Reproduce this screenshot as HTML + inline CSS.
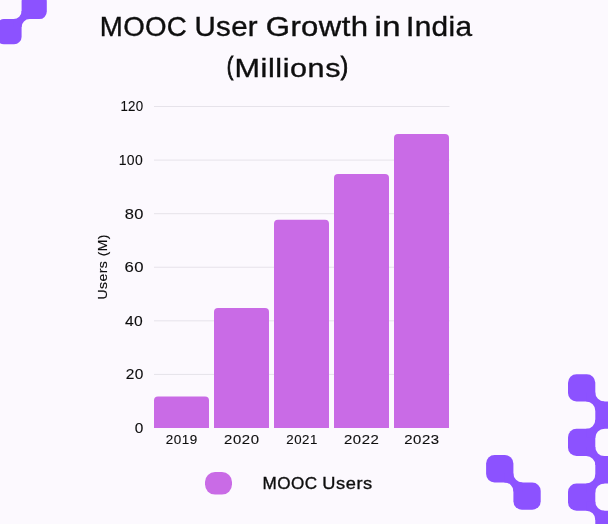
<!DOCTYPE html>
<html><head><meta charset="utf-8"><style>
html,body{margin:0;padding:0;width:608px;height:524px;overflow:hidden;background:#fcf9fe;}
svg{position:absolute;left:0;top:0;display:block;will-change:transform}
text{font-family:"Liberation Sans",sans-serif;fill:#0e0e0e}
</style></head><body>
<svg width="608" height="524" viewBox="0 0 608 524">
<rect width="608" height="524" fill="#fcf9fe"/>
<g fill="#8c52ff"><rect x="21.60" y="-6.10" width="25.20" height="25.20" rx="7.5"/><rect x="-3.60" y="19.10" width="25.20" height="25.20" rx="7.5"/><path d="M21.60,11.10 L29.60,11.10 L29.60,19.10 A8,8 0 0 0 21.60,27.10 L13.60,27.10 L13.60,19.10 A8,8 0 0 0 21.60,11.10 Z"/><rect x="486.10" y="455.10" width="27.30" height="27.30" rx="8.5"/><rect x="513.40" y="482.40" width="27.30" height="27.30" rx="8.5"/><path d="M504.40,473.40 L513.40,473.40 A9,9 0 0 0 522.40,482.40 L522.40,491.40 L513.40,491.40 A9,9 0 0 0 504.40,482.40 Z"/><rect x="568.00" y="374.20" width="27.30" height="27.30" rx="8.5"/><rect x="595.30" y="401.50" width="27.30" height="27.30" rx="8.5"/><rect x="568.00" y="428.80" width="27.30" height="27.30" rx="8.5"/><rect x="595.30" y="456.10" width="27.30" height="27.30" rx="8.5"/><rect x="568.00" y="483.40" width="27.30" height="27.30" rx="8.5"/><rect x="595.30" y="510.70" width="27.30" height="27.30" rx="8.5"/><path d="M586.30,392.50 L595.30,392.50 A9,9 0 0 0 604.30,401.50 L604.30,410.50 L595.30,410.50 A9,9 0 0 0 586.30,401.50 Z"/><path d="M595.30,419.80 L604.30,419.80 L604.30,428.80 A9,9 0 0 0 595.30,437.80 L586.30,437.80 L586.30,428.80 A9,9 0 0 0 595.30,419.80 Z"/><path d="M586.30,447.10 L595.30,447.10 A9,9 0 0 0 604.30,456.10 L604.30,465.10 L595.30,465.10 A9,9 0 0 0 586.30,456.10 Z"/><path d="M595.30,474.40 L604.30,474.40 L604.30,483.40 A9,9 0 0 0 595.30,492.40 L586.30,492.40 L586.30,483.40 A9,9 0 0 0 595.30,474.40 Z"/><path d="M586.30,501.70 L595.30,501.70 A9,9 0 0 0 604.30,510.70 L604.30,519.70 L595.30,519.70 A9,9 0 0 0 586.30,510.70 Z"/></g>
<rect x="154" y="373.92" width="295.5" height="1" fill="#e6e3ea"/><rect x="154" y="320.34" width="295.5" height="1" fill="#e6e3ea"/><rect x="154" y="266.76" width="295.5" height="1" fill="#e6e3ea"/><rect x="154" y="213.18" width="295.5" height="1" fill="#e6e3ea"/><rect x="154" y="159.60" width="295.5" height="1" fill="#e6e3ea"/><rect x="154" y="106.02" width="295.5" height="1" fill="#e6e3ea"/>
<path d="M154,428.0 L154,400.45 A4,4 0 0 1 158,396.45 L205,396.45 A4,4 0 0 1 209,400.45 L209,428.0 Z" fill="#c96be6"/><path d="M214,428.0 L214,312.05 A4,4 0 0 1 218,308.05 L265,308.05 A4,4 0 0 1 269,312.05 L269,428.0 Z" fill="#c96be6"/><path d="M274,428.0 L274,223.64 A4,4 0 0 1 278,219.64 L325,219.64 A4,4 0 0 1 329,223.64 L329,428.0 Z" fill="#c96be6"/><path d="M334,428.0 L334,178.09 A4,4 0 0 1 338,174.09 L385,174.09 A4,4 0 0 1 389,178.09 L389,428.0 Z" fill="#c96be6"/><path d="M394,428.0 L394,137.91 A4,4 0 0 1 398,133.91 L445,133.91 A4,4 0 0 1 449,137.91 L449,428.0 Z" fill="#c96be6"/>
<text transform="translate(143.50,36.05) scale(1.0645,1.0812)" text-anchor="middle" font-size="26" letter-spacing="0.3" stroke="#0e0e0e" stroke-width="0.35">MOOC</text><text transform="translate(226.25,36.05) scale(1.1331,1.0812)" text-anchor="middle" font-size="26" letter-spacing="0.3" stroke="#0e0e0e" stroke-width="0.35">User</text><text transform="translate(317.07,36.05) scale(1.1985,1.0812)" text-anchor="middle" font-size="26" letter-spacing="0.3" stroke="#0e0e0e" stroke-width="0.35">Growth</text><text transform="translate(387.75,36.05) scale(1.2664,1.0812)" text-anchor="middle" font-size="26" letter-spacing="0.3" stroke="#0e0e0e" stroke-width="0.35">in</text><text transform="translate(439.25,36.05) scale(1.1471,1.0812)" text-anchor="middle" font-size="26" letter-spacing="0.3" stroke="#0e0e0e" stroke-width="0.35">India</text><text transform="translate(230.00,74.80) scale(0.7581,0.9559)" text-anchor="middle" font-size="26" letter-spacing="0" stroke="#0e0e0e" stroke-width="0.9">(</text><text transform="translate(287.75,76.50) scale(1.1758,0.9712)" text-anchor="middle" font-size="26" letter-spacing="0.5" stroke="#0e0e0e" stroke-width="0.35">Millions</text><text transform="translate(344.55,74.80) scale(0.8525,0.9559)" text-anchor="middle" font-size="26" letter-spacing="0" stroke="#0e0e0e" stroke-width="0.9">)</text><text transform="translate(139.25,432.60) scale(1.1847,1.0767)" text-anchor="middle" font-size="13" letter-spacing="0.3" stroke="#0e0e0e" stroke-width="0.1">0</text><text transform="translate(134.75,379.21) scale(1.1923,1.0767)" text-anchor="middle" font-size="13" letter-spacing="0.3" stroke="#0e0e0e" stroke-width="0.1">20</text><text transform="translate(134.10,325.82) scale(1.2040,1.0767)" text-anchor="middle" font-size="13" letter-spacing="0.3" stroke="#0e0e0e" stroke-width="0.1">40</text><text transform="translate(134.15,272.43) scale(1.2863,1.0767)" text-anchor="middle" font-size="13" letter-spacing="0.3" stroke="#0e0e0e" stroke-width="0.1">60</text><text transform="translate(134.25,218.54) scale(1.2662,1.0767)" text-anchor="middle" font-size="13" letter-spacing="0.3" stroke="#0e0e0e" stroke-width="0.1">80</text><text transform="translate(130.90,165.15) scale(1.0751,1.0767)" text-anchor="middle" font-size="13" letter-spacing="0.3" stroke="#0e0e0e" stroke-width="0.1">100</text><text transform="translate(131.95,111.26) scale(1.0244,1.0767)" text-anchor="middle" font-size="13" letter-spacing="0.3" stroke="#0e0e0e" stroke-width="0.1">120</text><text transform="translate(181.75,444.25) scale(1.0331,1.0380)" text-anchor="middle" font-size="13" letter-spacing="0.5" stroke="#0e0e0e" stroke-width="0.12">2019</text><text transform="translate(241.83,444.25) scale(1.1469,1.0380)" text-anchor="middle" font-size="13" letter-spacing="0.5" stroke="#0e0e0e" stroke-width="0.12">2020</text><text transform="translate(302.05,444.25) scale(1.0204,1.0380)" text-anchor="middle" font-size="13" letter-spacing="0.5" stroke="#0e0e0e" stroke-width="0.12">2021</text><text transform="translate(361.68,444.25) scale(1.1494,1.0380)" text-anchor="middle" font-size="13" letter-spacing="0.5" stroke="#0e0e0e" stroke-width="0.12">2022</text><text transform="translate(421.97,444.25) scale(1.1493,1.0380)" text-anchor="middle" font-size="13" letter-spacing="0.5" stroke="#0e0e0e" stroke-width="0.12">2023</text><text transform="translate(107.25,266.80) rotate(-90) scale(1.0671,0.9152)" text-anchor="middle" font-size="13" letter-spacing="0.5" stroke="#0e0e0e" stroke-width="0.15">Users (M)</text><text transform="translate(290.00,489.00) scale(1.0067,1.0013)" text-anchor="middle" font-size="17" letter-spacing="0.5" stroke="#0e0e0e" stroke-width="0.35">MOOC</text><text transform="translate(347.50,489.00) scale(1.0750,1.0013)" text-anchor="middle" font-size="17" letter-spacing="0.5" stroke="#0e0e0e" stroke-width="0.35">Users</text>
<rect x="205" y="472" width="27" height="22.6" rx="10" fill="#c96be6"/>
</svg>
</body></html>
